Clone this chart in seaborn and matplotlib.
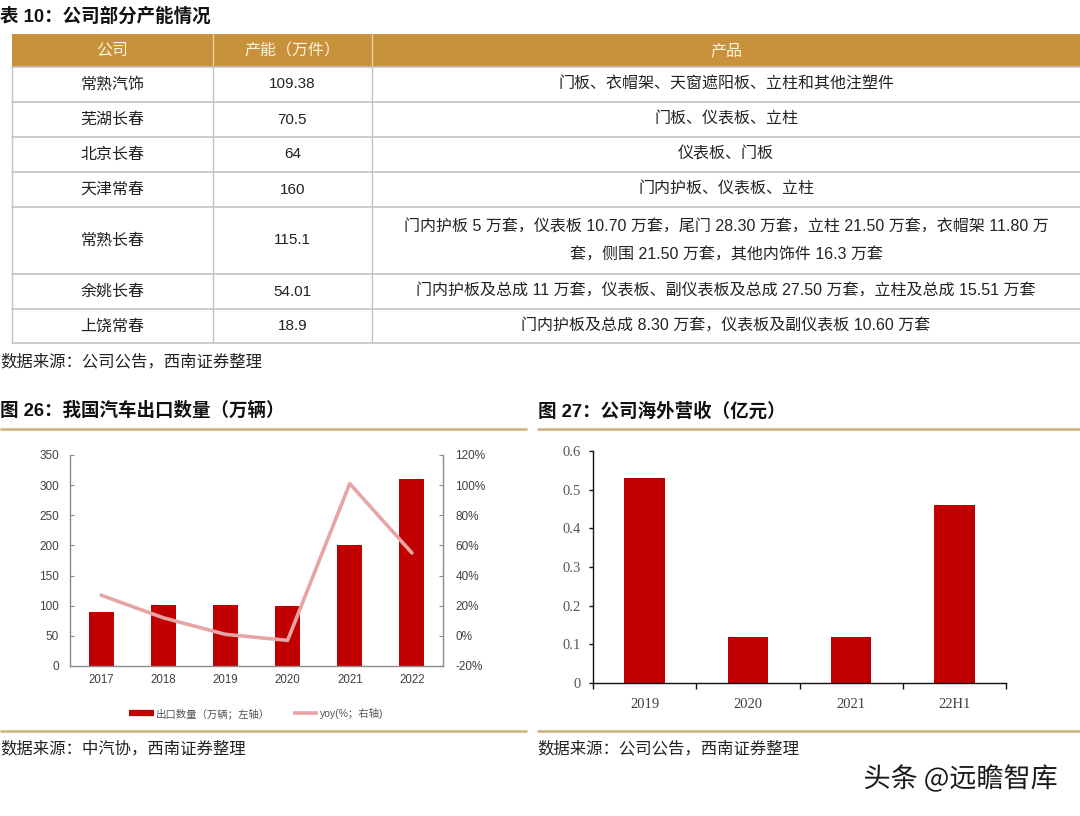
import numpy as np
import matplotlib
matplotlib.use("Agg")
import matplotlib.pyplot as plt
import seaborn as sns
from matplotlib.lines import Line2D
from matplotlib.patches import Rectangle
from matplotlib.ticker import FuncFormatter, FixedLocator
from matplotlib.font_manager import FontProperties
import matplotlib.patheffects as pe

# ---------------- data ----------------
table_title = "表 10：公司部分产能情况"
table_header = ["公司", "产能（万件）", "产品"]
companies = ["常熟汽饰", "芜湖长春", "北京长春", "天津常春", "常熟长春", "余姚长春", "上饶常春"]
capacity = ["109.38", "70.5", "64", "160", "115.1", "54.01", "18.9"]
products = [
    "门板、衣帽架、天窗遮阳板、立柱和其他注塑件",
    "门板、仪表板、立柱",
    "仪表板、门板",
    "门内护板、仪表板、立柱",
    "门内护板 5 万套，仪表板 10.70 万套，尾门 28.30 万套，立柱 21.50 万套，衣帽架 11.80 万\n套，侧围 21.50 万套，其他内饰件 16.3 万套",
    "门内护板及总成 11 万套，仪表板、副仪表板及总成 27.50 万套，立柱及总成 15.51 万套",
    "门内护板及总成 8.30 万套，仪表板及副仪表板 10.60 万套",
]
table_source = "数据来源：公司公告，西南证券整理"

fig26_title = "图 26：我国汽车出口数量（万辆）"
export_years = ["2017", "2018", "2019", "2020", "2021", "2022"]
export_volume = [90, 101, 102, 99, 200, 310]
export_yoy = [27, 12, 1, -3, 101, 55]
legend26_labels = ["出口数量（万辆；左轴）", "yoy(%；右轴)"]
left_ticks26 = [0, 50, 100, 150, 200, 250, 300, 350]
right_ticks26 = [-20, 0, 20, 40, 60, 80, 100, 120]
source26 = "数据来源：中汽协，西南证券整理"

fig27_title = "图 27：公司海外营收（亿元）"
rev_periods = ["2019", "2020", "2021", "22H1"]
overseas_rev = [0.53, 0.12, 0.12, 0.46]
ticks27 = [0, 0.1, 0.2, 0.3, 0.4, 0.5, 0.6]
source27 = "数据来源：公司公告，西南证券整理"
watermark = "头条 @远瞻智库"

# ---------------- style ----------------
sns.set_style("white")
FAM = ["Liberation Sans", "Noto Sans CJK SC", "DejaVu Sans"]
SERIF = ["Liberation Serif", "Noto Sans CJK SC"]
plt.rcParams["font.family"] = FAM
plt.rcParams["axes.unicode_minus"] = False

GOLD = "#C8913C"
TAN = "#C9B27C"
RED = "#C00000"
PINK = "#E6A5A5"
GRID = "#C4C4C4"
TXT = "#222222"

W, H = 1080, 816
fig = plt.figure(figsize=(W / 100, H / 100), dpi=100)
fig.patch.set_facecolor("white")


def px_axes(x0, y0, x1, y1):
    return fig.add_axes([x0 / W, 1 - y1 / H, (x1 - x0) / W, (y1 - y0) / H])


bg = fig.add_axes([0, 0, 1, 1])
bg.set_xlim(0, W)
bg.set_ylim(H, 0)
bg.axis("off")

# ---------------- table ----------------
bg.text(0, 17, table_title, fontsize=13.3, fontweight="bold", color="#111111",
        ha="left", va="center", family=FAM)

col_edges = [12, 213, 372, 1080]
row_edges = [34, 67, 102, 137, 172, 207, 274, 309, 343]
bg.add_patch(Rectangle((col_edges[0], row_edges[0]), col_edges[-1] - col_edges[0],
                       row_edges[1] - row_edges[0], facecolor=GOLD, edgecolor="none"))
for x in col_edges[1:-1]:
    bg.plot([x, x], [row_edges[0], row_edges[1]], color="#E8CFA6", lw=1.0)
    bg.plot([x, x], [row_edges[1], row_edges[-1]], color=GRID, lw=1.0)
bg.plot([col_edges[0], col_edges[0]], [row_edges[1], row_edges[-1]], color=GRID, lw=1.0)
for y in row_edges[1:]:
    bg.plot([col_edges[0], col_edges[-1]], [y, y], color=GRID, lw=1.2)

col_centers = [(col_edges[i] + col_edges[i + 1]) / 2 for i in range(3)]
col_centers[2] = 726
hy = (row_edges[0] + row_edges[1]) / 2
for cx, label in zip(col_centers, table_header):
    bg.text(cx, hy, label, fontsize=11.5, color="#FFF4DE", ha="center", va="center", family=FAM)

for i, (c, cap, prod) in enumerate(zip(companies, capacity, products)):
    cy = (row_edges[i + 1] + row_edges[i + 2]) / 2
    bg.text(col_centers[0], cy, c, fontsize=11.5, color=TXT, ha="center", va="center", family=FAM)
    bg.text(col_centers[1], cy, cap, fontsize=11, color=TXT, ha="center", va="center", family=FAM)
    bg.text(col_centers[2], cy, prod, fontsize=11.5, color=TXT, ha="center", va="center",
            multialignment="center", linespacing=2.0, family=FAM)

bg.text(0, 362, table_source, fontsize=11.8, color=TXT, ha="left", va="center", family=FAM)

# ---------------- panel frames ----------------
for x0, x1 in [(0, 527), (537, 1080)]:
    bg.plot([x0, x1], [429, 429], color=TAN, lw=1.8, solid_capstyle="butt")
    bg.plot([x0, x1], [731, 731], color=TAN, lw=1.8, solid_capstyle="butt")
bg.text(0, 411, fig26_title, fontsize=13.3, fontweight="bold", color="#111111",
        ha="left", va="center", family=FAM)
bg.text(538, 411, fig27_title, fontsize=13.3, fontweight="bold", color="#111111",
        ha="left", va="center", family=FAM)
bg.text(0, 749, source26, fontsize=11.8, color=TXT, ha="left", va="center", family=FAM)
bg.text(537, 749, source27, fontsize=11.8, color=TXT, ha="left", va="center", family=FAM)
bg.text(1058, 779, watermark, fontsize=19.5, color="#1a1a1a", ha="right", va="center",
        family=["Noto Sans CJK SC", "DejaVu Sans"],
        path_effects=[pe.withStroke(linewidth=2.5, foreground="white")])

# ---------------- chart 26 ----------------
ax1 = px_axes(70, 455, 443, 666)
sns.barplot(x=export_years, y=export_volume, color=RED, saturation=1, width=0.4,
            ax=ax1, edgecolor="none")
ax2 = ax1.twinx()
sns.lineplot(x=np.arange(len(export_years)), y=export_yoy, ax=ax2, color=PINK, lw=2.6)
ax1.set_xlim(-0.5, len(export_years) - 0.5)
ax1.set_ylim(0, 350)
ax2.set_ylim(-20, 120)
ax1.yaxis.set_major_locator(FixedLocator(left_ticks26))
ax2.yaxis.set_major_locator(FixedLocator(right_ticks26))
ax2.yaxis.set_major_formatter(FuncFormatter(lambda v, p: f"{int(round(v))}%"))
for a in (ax1, ax2):
    a.set_xlabel("")
    a.set_ylabel("")
    a.set_facecolor("none")
    for s in a.spines.values():
        s.set_color("#8C8C8C")
        s.set_linewidth(1.0)
    a.spines["top"].set_visible(False)
ax1.spines["right"].set_visible(False)
ax2.spines["left"].set_visible(False)
ax2.spines["bottom"].set_visible(False)
ax1.tick_params(axis="y", left=True, direction="in", length=3, color="#8C8C8C", labelsize=8.5,
                labelcolor="#404040", pad=8)
ax2.tick_params(axis="y", right=True, direction="in", length=3, color="#8C8C8C", labelsize=8.5,
                labelcolor="#404040", pad=9)
ax1.tick_params(axis="x", length=0, labelsize=8.3, labelcolor="#404040", pad=6)
handles = [Line2D([], [], color=RED, lw=4.5, solid_capstyle="butt"),
           Line2D([], [], color=PINK, lw=2.6, solid_capstyle="butt")]
ax1.legend(handles, legend26_labels, loc="center", bbox_to_anchor=(0.5, -0.225),
           ncol=2, frameon=False, handlelength=2.4, handletextpad=0.2, columnspacing=2.2,
           prop=FontProperties(family=FAM, size=7.5), labelcolor="#555555")

# ---------------- chart 27 ----------------
ax3 = px_axes(593, 451, 1006, 683)
sns.barplot(x=rev_periods, y=overseas_rev, color=RED, saturation=1, width=0.39,
            ax=ax3, edgecolor="none")
ax3.set_xlim(-0.5, len(rev_periods) - 0.5)
ax3.set_ylim(0, 0.6)
ax3.yaxis.set_major_locator(FixedLocator(ticks27))
ax3.yaxis.set_major_formatter(FuncFormatter(lambda v, p: "0" if v == 0 else f"{v:.1f}"))
ax3.set_xlabel("")
ax3.set_ylabel("")
ax3.set_facecolor("none")
for side in ("top", "right"):
    ax3.spines[side].set_visible(False)
for side in ("left", "bottom"):
    ax3.spines[side].set_color("#111111")
    ax3.spines[side].set_linewidth(1.0)
ax3.xaxis.set_minor_locator(FixedLocator(np.arange(len(rev_periods) + 1) - 0.5))
ax3.tick_params(axis="x", which="major", bottom=True, length=0, labelsize=10.5,
                labelcolor="#404040", pad=11)
ax3.tick_params(axis="x", which="minor", bottom=True, direction="out", length=4,
                width=1.0, color="#111111")
ax3.tick_params(axis="y", left=True, direction="out", length=3, width=1.0, color="#111111",
                labelsize=10.5, labelcolor="#555555", pad=6)
for lab in ax3.get_xticklabels() + ax3.get_yticklabels():
    lab.set_fontfamily(SERIF)

fig.savefig("out.png", dpi=100)
